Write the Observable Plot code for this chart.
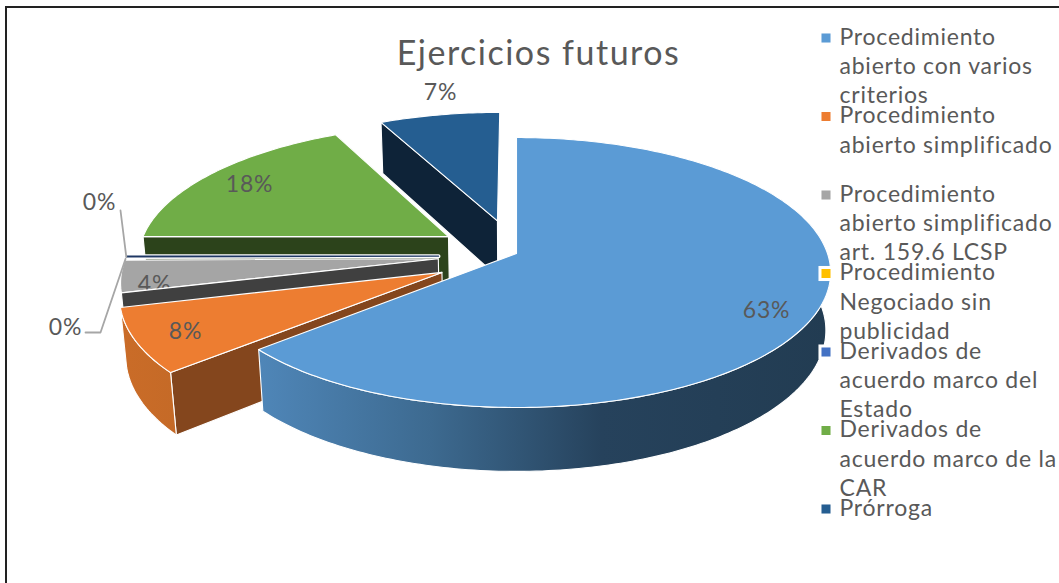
<!DOCTYPE html>
<html>
<head>
<meta charset="utf-8">
<script src="https://cdn.jsdelivr.net/npm/d3@7"></script>
<script src="https://cdn.jsdelivr.net/npm/@observablehq/plot@0.6"></script>
<style>
html,body{margin:0;padding:0;background:#fff;overflow:hidden}
svg{display:block}
.legend-text{letter-spacing:0.77px}
.pct-text{letter-spacing:0.8px}
.title-text{letter-spacing:1.5px}
</style>
</head>
<body>
<div id="chart"></div>
<script>
// ---- data
const categories = [
  "Procedimiento abierto con varios criterios",
  "Procedimiento abierto simplificado",
  "Procedimiento abierto simplificado art. 159.6 LCSP",
  "Procedimiento Negociado sin publicidad",
  "Derivados de acuerdo marco del Estado",
  "Derivados de acuerdo marco de la CAR",
  "Prórroga"
];
const values = [63.55, 7.5, 3.8, 0.05, 0.1, 17.7, 7.3];
const percentLabels = ["63%", "8%", "4%", "0%", "0%", "18%", "7%"];
const legendLines = [
  ["Procedimiento", "abierto con varios", "criterios"],
  ["Procedimiento", "abierto simplificado"],
  ["Procedimiento", "abierto simplificado", "art. 159.6 LCSP"],
  ["Procedimiento", "Negociado sin", "publicidad"],
  ["Derivados de", "acuerdo marco del", "Estado"],
  ["Derivados de", "acuerdo marco de la", "CAR"],
  ["Prórroga"]
];
const title = "Ejercicios futuros";

// ---- styling
const faceColors = ["#5b9bd5", "#ed7d31", "#a5a5a5", "#ffc000", "#4472c4", "#70ad47", "#255e91"];
const wallColors = ["#1f3a52", "#84461d", "#404040", "#7f6000", "#1f3864", "#2c431b", "#0e2338"];
const textColor = "#595959";
const font = "Lato";

// ---- 3D pie layout (explosion in disc units, perspective camera)
const explodeU = [0, -0.235, -0.25, -0.25, -0.25, -0.2227, -0.0635];
const explodeV = [0, -0.14, -0.04, -0.03, -0.02, 0.13, 0.255];
const cx = 516, cy = 253, R = 311, Q = 132.3, K = 0.1408, D = 58.2, M = 0.015;

function project(u, v, z = 0) {
  const w = 1 + K * v + M * z;
  return {x: cx + R * u / w, y: cy + (-Q * v + D * z) / w};
}
const total = d3.sum(values);
const cum = d3.cumsum(values);
const angles = values.map((d, i) => ({
  a0: (i ? cum[i - 1] : 0) / total * 2 * Math.PI,
  a1: cum[i] / total * 2 * Math.PI
}));
function rim(i, a, z = 0) {
  return project(Math.sin(a) + explodeU[i], Math.cos(a) + explodeV[i], z);
}
function apex(i, z = 0) {
  return project(explodeU[i], explodeV[i], z);
}
function arc(i, a0, a1, z = 0) {
  const n = Math.max(2, Math.ceil(Math.abs(a1 - a0) / (Math.PI / 180)));
  return d3.range(n + 1).map(k => rim(i, a0 + (a1 - a0) * k / n, z));
}
function closed(points) { return [...points, points[0]]; }
function poly(points, fill, options = {}) {
  return Plot.line(closed(points), {x: "x", y: "y", fill, stroke: "#fff", strokeWidth: 1.1, strokeLinejoin: "round", ...options});
}
const topFace = i => poly([apex(i), ...arc(i, angles[i].a0, angles[i].a1)], faceColors[i]);
const startWall = i => poly([apex(i), rim(i, angles[i].a0), rim(i, angles[i].a0, 1), apex(i, 1)], wallColors[i]);
const arcWall = (i, a0, a1, fill) => poly([...arc(i, a0, a1), ...arc(i, a1, a0, 1)], fill);

const grad = (id, stops) => () => {
  const NS = "http://www.w3.org/2000/svg";
  const defs = document.createElementNS(NS, "defs");
  const g = document.createElementNS(NS, "linearGradient");
  g.setAttribute("id", id);
  stops.forEach(([o, c]) => {
    const s = document.createElementNS(NS, "stop");
    s.setAttribute("offset", o);
    s.setAttribute("stop-color", c);
    g.appendChild(s);
  });
  defs.appendChild(g);
  return defs;
};

const pctText = (i, x, y, fill = textColor) => Plot.text([percentLabels[i]], {
  x: () => x, y: () => y, text: d => d, fill, fontFamily: font, fontSize: 23, textAnchor: "middle", lineAnchor: "middle", className: "pct-text"
});

const iYellow = 3, iDeriv = 4;
const legendRows = legendLines.flatMap((lines, i) =>
  lines.map((t, j) => ({t, x: 839, y: 37 + 78.5 * i + 29.3 * j})));
const legendKeys = legendLines.map((_, i) => ({x: 825.5, y: 37.5 + 78.5 * i, c: faceColors[i]}));

const marks = [
  grad("bigWall", [[0, "#4f86b8"], [0.3, "#3d6a90"], [0.6, "#26425c"], [1, "#223c52"]]),
  grad("orangeWall", [[0, "#ca6c28"], [1, "#c56a27"]]),
  // frame
  Plot.ruleY([6.5], {x1: 5, x2: 1059, stroke: "#222", strokeWidth: 2}),
  Plot.ruleX([5.5], {y1: 6, y2: 583, stroke: "#222", strokeWidth: 2}),
  // Prórroga
  startWall(6),
  topFace(6),
  // Derivados CAR
  startWall(5),
  topFace(5),
  // slivers
  poly([apex(iDeriv), ...arc(iDeriv, angles[iDeriv].a0, angles[iDeriv].a1)], "#fff", {stroke: "#fff", strokeWidth: 4}),
  poly([apex(iDeriv), ...arc(iDeriv, angles[iDeriv].a0, angles[iDeriv].a1)], faceColors[iDeriv], {stroke: "#1f3864", strokeWidth: 1.2}),
  // grey slice
  topFace(2),
  pctText(2, 154, 284),
  startWall(2),
  // orange slice
  startWall(1),
  arcWall(1, angles[1].a0, angles[1].a1, "url(#orangeWall)"),
  topFace(1),
  // main slice
  arcWall(0, 70 * Math.PI / 180, angles[0].a1, "url(#bigWall)"),
  topFace(0),
  // leaders
  Plot.line([{x: 120, y: 210}, rim(iDeriv, angles[iDeriv].a0)], {x: "x", y: "y", stroke: "#a6a6a6", strokeWidth: 1.8}),
  Plot.line([{x: 85, y: 332}, {x: 100, y: 332}, rim(iYellow, angles[iYellow].a0)], {x: "x", y: "y", stroke: "#a6a6a6", strokeWidth: 1.8}),
  // labels
  pctText(0, 766, 310),
  pctText(1, 185, 331),
  pctText(3, 99, 202),
  pctText(4, 65, 327),
  pctText(5, 249, 184),
  pctText(6, 440, 92),
  // title
  Plot.text([title], {x: () => 538, y: () => 54, text: d => d, fill: textColor, fontFamily: font, fontSize: 34, textAnchor: "middle", lineAnchor: "middle", className: "title-text"}),
  // legend
  Plot.dot(legendKeys, {x: "x", y: "y", symbol: "square", r: 8.5, fill: "#fff", stroke: "none"}),
  Plot.dot(legendKeys, {x: "x", y: "y", symbol: "square", r: 5.1, fill: "c", stroke: "none"}),
  Plot.text(legendRows, {x: "x", y: "y", text: "t", fill: textColor, fontFamily: font, fontSize: 23, textAnchor: "start", lineAnchor: "middle", className: "legend-text"})
];

const chart = Plot.plot({
  width: 1059, height: 583,
  margin: 0,
  style: {background: "#fff"},
  x: {domain: [0, 1059], range: [0, 1059], axis: null},
  y: {domain: [0, 583], range: [0, 583], axis: null},
  color: {type: "identity"},
  marks
});
document.getElementById("chart").appendChild(chart);
</script>
</body>
</html>
